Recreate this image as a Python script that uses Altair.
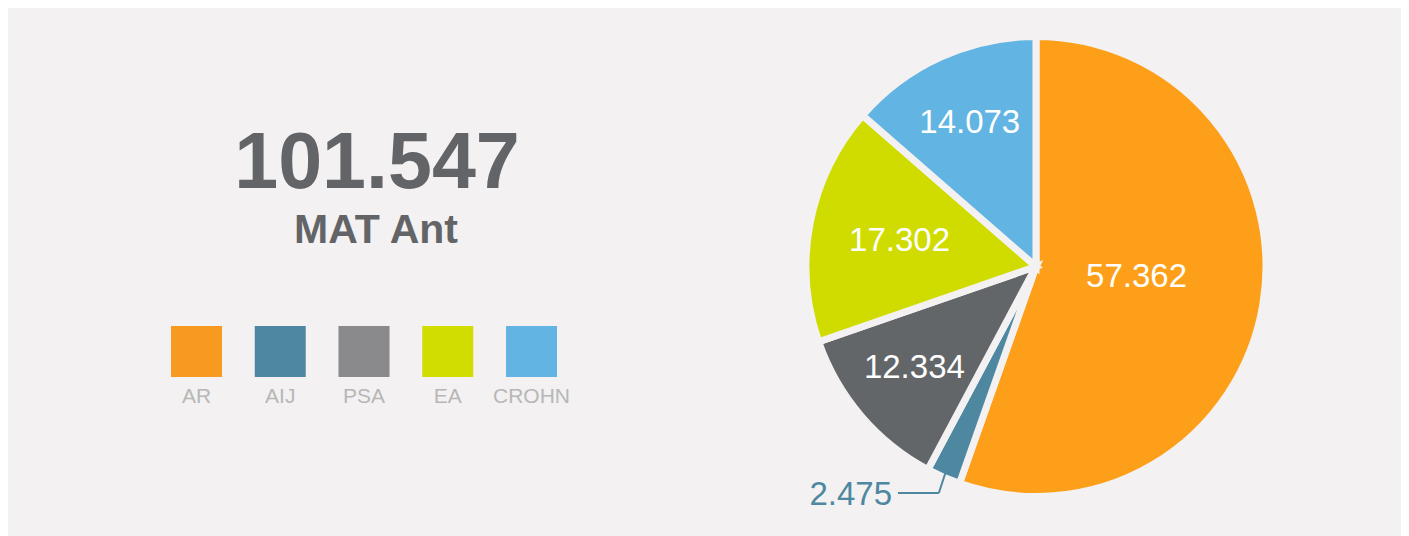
import math
import altair as alt
import pandas as pd

# ---- data ----
CATEGORIES = ["AR", "AIJ", "PSA", "EA", "CROHN"]
VALUES = [57.362, 2.475, 12.334, 17.302, 14.073]
LABELS = ["57.362", "2.475", "12.334", "17.302", "14.073"]
TOTAL_LABEL = "101.547"
SUBTITLE = "MAT Ant"

PIE_COLORS = ["#fd9f19", "#4e87a0", "#636669", "#d0dc00", "#62b4e2"]
LEGEND_COLORS = ["#f99a20", "#4e87a1", "#8a8a8c", "#d1dc00", "#62b4e2"]

BG = "#f3f1f1"
FONT = "Liberation Sans"
W, H = 1393, 528

df = pd.DataFrame({
    "cat": CATEGORIES,
    "value": VALUES,
    "label": LABELS,
    "idx": list(range(len(CATEGORIES))),
})
TOTAL = float(sum(VALUES))

# pie geometry (relative to the view origin)
CX, CY = 1028, 258.5
R_OUT = 230

theta_scale = alt.Scale(domain=[0, TOTAL])

pie = alt.Chart(df).mark_arc(
    outerRadius=R_OUT, stroke=BG, strokeWidth=7
).encode(
    theta=alt.Theta("value:Q", stack=True, scale=theta_scale),
    order=alt.Order("idx:Q"),
    color=alt.Color("cat:N", scale=alt.Scale(domain=CATEGORIES, range=PIE_COLORS), legend=None),
    x=alt.value(CX),
    y=alt.value(CY),
)

base = alt.Chart(df).transform_window(
    cum="sum(value)", sort=[alt.SortField("idx")], frame=[None, 0]
).transform_calculate(mid="datum.cum - datum.value / 2")

label_place = {"AR": (102, -7), "PSA": (160, -2), "EA": (139, 1), "CROHN": (160, 2)}
inner_labels = []
for cat, (rad, dy) in label_place.items():
    inner_labels.append(
        base.transform_filter(alt.datum.cat == cat).mark_text(
            radius=rad, dy=dy, font=FONT, fontSize=33, color="white",
            align="center", baseline="middle"
        ).encode(
            theta=alt.Theta("mid:Q", stack=False, scale=theta_scale),
            text="label:N",
            x=alt.value(CX),
            y=alt.value(CY),
        )
    )

# leader for the small slice, anchored at its mid-angle on the rim
frac = (VALUES[0] + VALUES[1] / 2) / TOTAL
ang = 2 * math.pi * frac
ax = CX + 224 * math.sin(ang)
ay = CY - 224 * math.cos(ang)
elbow_x, elbow_y = ax - 7, 485
lead_col = PIE_COLORS[1]

aij = base.transform_filter(alt.datum.cat == "AIJ")
lead1 = aij.mark_rule(color=lead_col, strokeWidth=2).encode(
    x=alt.value(ax), y=alt.value(ay), x2=alt.value(elbow_x), y2=alt.value(elbow_y)
)
lead2 = aij.mark_rule(color=lead_col, strokeWidth=2).encode(
    x=alt.value(elbow_x), y=alt.value(elbow_y), x2=alt.value(890), y2=alt.value(elbow_y)
)
aij_text = aij.mark_text(
    font=FONT, fontSize=33, color=lead_col, align="right", baseline="alphabetic"
).encode(text="label:N", x=alt.value(884), y=alt.value(497))

# headline texts
head = pd.DataFrame({"t": [TOTAL_LABEL], "s": [SUBTITLE]})
big = alt.Chart(head).mark_text(
    font=FONT, fontSize=79, fontWeight="bold", color="#636467",
    align="center", baseline="alphabetic"
).encode(text="t:N", x=alt.value(369), y=alt.value(180))
sub = alt.Chart(head).mark_text(
    font=FONT, fontSize=41, fontWeight="bold", color="#636467",
    align="center", baseline="alphabetic"
).encode(text="s:N", x=alt.value(368), y=alt.value(235))

# custom legend
lx = alt.X("cat:N", sort=CATEGORIES,
           scale=alt.Scale(type="point", domain=CATEGORIES, range=[188.5, 523.5], padding=0),
           axis=None)
leg_sq = alt.Chart(df).mark_square(size=51 * 51, opacity=1, strokeWidth=0).encode(
    x=lx, y=alt.value(343.5),
    color=alt.Color("cat:N", scale=alt.Scale(domain=CATEGORIES, range=LEGEND_COLORS), legend=None),
)
leg_txt = alt.Chart(df).mark_text(
    font=FONT, fontSize=21, color="#b7b7b7", align="center", baseline="alphabetic"
).encode(x=lx, y=alt.value(395), text="cat:N")

chart = alt.layer(
    pie, *inner_labels, lead1, lead2, aij_text, big, sub, leg_sq, leg_txt
).resolve_scale(color="independent").properties(
    width=W, height=H, autosize="none", padding=0, background=BG
).configure_view(stroke=None)

chart.save("out.html", embed_options={"renderer": "svg", "actions": False})
